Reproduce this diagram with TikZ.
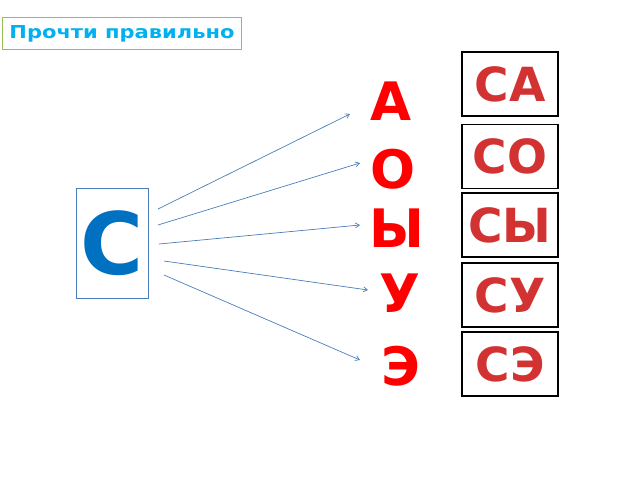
\documentclass[tikz,border=0pt]{standalone}
\usepackage{fontspec}
\setmainfont{DejaVu Sans}
\newfontfamily\titlefont[FakeStretch=1.18]{DejaVu Sans}
\usepackage[rgb]{xcolor}
\usetikzlibrary{arrows.meta}
\definecolor{titleblue}{HTML}{00B0F0}
\definecolor{titlegreen}{HTML}{9BBB59}
\definecolor{cletter}{HTML}{0070C0}
\definecolor{cframe}{HTML}{4A7EBB}
\definecolor{sylred}{HTML}{D23232}

\begin{document}
\begin{tikzpicture}[x=1pt, y=-1pt,
  vowel/.style={anchor=base, text=red, font=\bfseries\fontsize{53}{53}\selectfont},
  syllable/.style={draw=black, line width=1.6pt, minimum width=96pt, minimum height=64pt,
    inner sep=0pt, text=sylred, font=\bfseries\fontsize{47}{47}\selectfont},
  pointer/.style={cframe, line width=0.7pt, -{Straight Barb[length=4pt, width=5pt]}}]

\useasboundingbox (0,0) rectangle (640,480);

% title in the corner
\path
(122,33.5) node [draw=titlegreen, line width=1.4pt, minimum width=239pt, minimum height=32pt,
  text=titleblue, font=\titlefont\bfseries\fontsize{17.8}{17.8}\selectfont] (title){Прочти правильно};

% the consonant
\path
(112.5,243.5) node [draw=cframe, line width=1pt, minimum width=72pt, minimum height=110pt,
  inner sep=0pt, text=cletter, font=\bfseries\fontsize{86}{86}\selectfont] (cons){С};

% vowels
\path (391,120) node [vowel] (va){А};
\path (393,188) node [vowel] (vo){О};
\path (397,247) node [vowel] (vy){Ы};
\path (400,312) node [vowel] (vu){У};
\path (401,385) node [vowel] (ve){Э};

% syllables
\path (510,84)    node [syllable] (sa){СА};
\path (510,156.5) node [syllable] (so){СО};
\path (510,225)   node [syllable] (sy){СЫ};
\path (510,295)   node [syllable] (su){СУ};
\path (510,364)   node [syllable] (se){СЭ};

%% arrows from the consonant
 \foreach \sx/\sy/\ex/\ey [count=\i] in {158/209/350/114, 158/225/360/163, 159/244/360/225, 164/261/368/290, 164/275/360/360}
  {
  \coordinate (from\i) at (\sx,\sy);
  \coordinate (to\i) at (\ex,\ey);
  \draw[pointer] (from\i) -- (to\i);
  }

\end{tikzpicture}
\end{document}
